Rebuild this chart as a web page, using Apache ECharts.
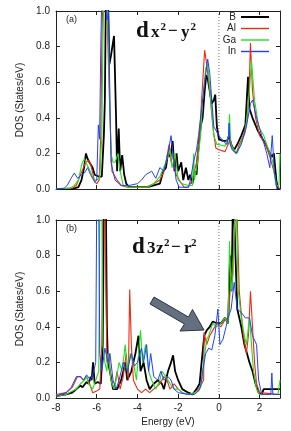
<!DOCTYPE html>
<html><head><meta charset="utf-8">
<script src="https://cdn.jsdelivr.net/npm/echarts@6/dist/echarts.min.js"></script>
<style>html,body{margin:0;padding:0;background:#fff}#c{width:291px;height:431px}</style>
</head><body><div id="c"></div>
<script>
// ---- data ----
const seriesNames = ['B', 'Al', 'Ga', 'In'];
const xTickLabels = ['-8', '-6', '-4', '-2', '0', '2'];
const yTickLabels = ['0.0', '0.2', '0.4', '0.6', '0.8', '1.0'];
const panelLabels = ['(a)', '(b)'];
const fermiLevel = [[0, 0], [0, 1]];   // dotted E = 0 reference line

// panel (a) d_{x2-y2}: [energy eV, DOS]
const aB = [[-8,0],[-7.2,0],[-6.9,0.01],[-6.75,0.05],[-6.62,0.12],[-6.53,0.2],[-6.45,0.17],[-6.36,0.15],[-6.2,0.12],[-6.1,0.08],[-6.03,0.07],[-5.9,0.07],[-5.75,0.07],[-5.65,0.3],[-5.6,0.5],[-5.55,1.1],[-5.45,1.1],[-5.38,0.7],[-5.3,0.75],[-5.15,0.86],[-5.05,0.4],[-5.0,0.1],[-4.92,0.34],[-4.85,0.1],[-4.75,0.19],[-4.65,0.08],[-4.55,0.03],[-4.4,0.01],[-3.5,0.01],[-3.2,0.02],[-2.9,0.03],[-2.73,0.1],[-2.6,0.12],[-2.5,0.2],[-2.38,0.18],[-2.27,0.27],[-2.18,0.1],[-2.08,0.2],[-2.0,0.1],[-1.85,0.15],[-1.75,0.05],[-1.62,0.12],[-1.5,0.05],[-1.42,0.08],[-1.3,0.03],[-1.2,0.1],[-1.1,0.08],[-1.04,0.18],[-0.95,0.3],[-0.88,0.36],[-0.8,0.4],[-0.7,0.55],[-0.62,0.64],[-0.55,0.62],[-0.45,0.55],[-0.35,0.48],[-0.25,0.5],[-0.18,0.53],[-0.1,0.35],[0,0.28],[0.2,0.27],[0.4,0.27],[0.5,0.3],[0.6,0.25],[0.75,0.22],[0.9,0.25],[1.1,0.3],[1.3,0.36],[1.43,0.63],[1.5,0.45],[1.65,0.4],[1.9,0.33],[2.05,0.3],[2.3,0.25],[2.5,0.2],[2.6,0.18],[2.7,0.2],[2.82,0.05],[2.9,0],[3,0]];
const aAl = [[-8,0],[-7.2,0.005],[-7.0,0.02],[-6.8,0.08],[-6.65,0.12],[-6.55,0.15],[-6.4,0.16],[-6.3,0.14],[-6.2,0.09],[-6.1,0.04],[-6.0,0.03],[-5.88,0.05],[-5.8,0.3],[-5.75,0.8],[-5.7,1.1],[-5.5,1.1],[-5.45,0.8],[-5.35,0.4],[-5.25,0.1],[-5.0,0.05],[-4.8,0.02],[-4.5,0.01],[-3.6,0.01],[-3.2,0.03],[-2.9,0.05],[-2.7,0.1],[-2.55,0.18],[-2.45,0.25],[-2.35,0.15],[-2.25,0.2],[-2.1,0.08],[-1.9,0.04],[-1.7,0.01],[-1.5,0.01],[-1.3,0.05],[-1.1,0.15],[-0.95,0.3],[-0.85,0.5],[-0.7,0.78],[-0.6,0.7],[-0.45,0.55],[-0.3,0.35],[-0.15,0.23],[0,0.22],[0.3,0.21],[0.45,0.25],[0.55,0.28],[0.7,0.22],[0.85,0.2],[1.0,0.25],[1.2,0.3],[1.4,0.4],[1.48,0.55],[1.55,0.82],[1.65,0.55],[1.8,0.4],[2.0,0.3],[2.3,0.25],[2.5,0.18],[2.7,0.1],[2.85,0.02],[3,0]];
const aGa = [[-8,0],[-7.3,0.005],[-7.1,0.02],[-6.9,0.05],[-6.75,0.13],[-6.7,0.15],[-6.6,0.17],[-6.5,0.14],[-6.4,0.12],[-6.25,0.08],[-6.15,0.05],[-6.0,0.05],[-5.85,0.06],[-5.75,0.3],[-5.7,0.8],[-5.65,1.1],[-5.5,1.1],[-5.42,0.8],[-5.3,0.2],[-5.2,0.15],[-5.1,0.15],[-4.95,0.2],[-4.85,0.1],[-4.7,0.02],[-4.4,0.01],[-3.5,0.01],[-3.2,0.03],[-2.9,0.07],[-2.6,0.15],[-2.4,0.22],[-2.3,0.12],[-2.15,0.2],[-2.0,0.05],[-1.8,0.03],[-1.5,0.02],[-1.3,0.02],[-1.24,0.2],[-1.2,0.05],[-1.05,0.15],[-0.9,0.3],[-0.8,0.5],[-0.65,0.68],[-0.55,0.7],[-0.4,0.5],[-0.25,0.3],[-0.1,0.25],[0,0.25],[0.3,0.24],[0.48,0.3],[0.52,0.42],[0.58,0.25],[0.75,0.22],[0.9,0.2],[1.05,0.25],[1.3,0.32],[1.5,0.55],[1.6,0.72],[1.75,0.5],[1.95,0.35],[2.2,0.3],[2.5,0.2],[2.65,0.15],[2.8,0.02],[2.95,0.02],[3,0.2]];
const aIn = [[-8,0],[-7.6,0.005],[-7.45,0.02],[-7.26,0.06],[-7.1,0.09],[-6.94,0.06],[-6.75,0.08],[-6.6,0.09],[-6.45,0.12],[-6.3,0.08],[-6.1,0.04],[-6.0,0.05],[-5.92,0.36],[-5.86,0.28],[-5.8,0.8],[-5.75,1.1],[-5.6,1.1],[-5.5,0.95],[-5.42,1.0],[-5.35,0.5],[-5.3,0.15],[-5.1,0.05],[-4.8,0.02],[-4.4,0.02],[-4.0,0.03],[-3.8,0.05],[-3.6,0.08],[-3.3,0.1],[-3.1,0.06],[-2.9,0.12],[-2.7,0.1],[-2.5,0.2],[-2.35,0.3],[-2.2,0.15],[-2.1,0.05],[-1.95,0.01],[-1.5,0.01],[-1.4,0.05],[-1.25,0.15],[-1.1,0.22],[-1.0,0.3],[-0.85,0.45],[-0.7,0.6],[-0.55,0.73],[-0.45,0.65],[-0.35,0.5],[-0.25,0.35],[-0.1,0.32],[0,0.3],[0.2,0.27],[0.4,0.25],[0.47,0.3],[0.5,0.37],[0.55,0.25],[0.65,0.22],[0.85,0.2],[1.1,0.25],[1.35,0.35],[1.55,0.48],[1.65,0.5],[1.85,0.4],[2.1,0.3],[2.35,0.2],[2.5,0.12],[2.62,0.3],[2.72,0.1],[2.85,0],[3,0]];

// panel (b) d_{3z2-r2}
const bB = [[-8,0.01],[-7.5,0.02],[-7.2,0.03],[-7.0,0.05],[-6.8,0.07],[-6.7,0.06],[-6.5,0.09],[-6.4,0.08],[-6.3,0.12],[-6.25,0.1],[-6.18,0.2],[-6.1,0.08],[-5.95,0.09],[-5.8,0.08],[-5.7,0.3],[-5.65,1.1],[-5.55,1.1],[-5.5,0.4],[-5.45,0.2],[-5.35,0.15],[-5.2,0.05],[-5.0,0.05],[-4.8,0.1],[-4.6,0.2],[-4.5,0.1],[-4.3,0.15],[-4.1,0.25],[-3.95,0.35],[-3.85,0.15],[-3.7,0.2],[-3.55,0.1],[-3.4,0.05],[-3.2,0.08],[-3.0,0.1],[-2.8,0.08],[-2.7,0.05],[-2.5,0.15],[-2.35,0.2],[-2.25,0.24],[-2.15,0.15],[-2.0,0.1],[-1.8,0.05],[-1.5,0.03],[-1.3,0.02],[-1.1,0.05],[-0.95,0.08],[-0.85,0.2],[-0.72,0.35],[-0.6,0.38],[-0.45,0.4],[-0.3,0.43],[-0.1,0.42],[0.1,0.42],[0.3,0.45],[0.45,0.42],[0.55,0.8],[0.62,0.6],[0.7,1.2],[0.78,1.2],[0.9,0.5],[1.1,0.4],[1.25,0.3],[1.38,0.25],[1.5,0.2],[1.65,0.15],[1.8,0.08],[1.95,0.03],[2.1,0.02],[2.2,0.05],[3,0.05]];
const bAl = [[-8,0.02],[-7.5,0.03],[-7.2,0.06],[-6.95,0.12],[-6.8,0.12],[-6.65,0.1],[-6.5,0.12],[-6.35,0.08],[-6.2,0.03],[-6.0,0.04],[-5.85,0.05],[-5.75,0.3],[-5.7,1.1],[-5.6,1.1],[-5.5,0.2],[-5.4,0.25],[-5.3,0.1],[-5.15,0.05],[-5.0,0.15],[-4.85,0.05],[-4.7,0.12],[-4.55,0.25],[-4.45,0.1],[-4.38,0.61],[-4.3,0.3],[-4.2,0.1],[-4.0,0.05],[-3.8,0.03],[-3.6,0.05],[-3.4,0.03],[-3.1,0.06],[-2.9,0.08],[-2.7,0.12],[-2.55,0.1],[-2.4,0.05],[-2.2,0.08],[-2.0,0.05],[-1.8,0.03],[-1.5,0.02],[-1.2,0.03],[-1.0,0.05],[-0.85,0.08],[-0.75,0.1],[-0.73,0.37],[-0.6,0.3],[-0.45,0.35],[-0.3,0.38],[-0.1,0.42],[0.1,0.4],[0.35,0.45],[0.45,0.42],[0.55,0.6],[0.7,0.8],[0.85,1.2],[0.92,1.2],[1.0,0.6],[1.2,0.35],[1.35,0.25],[1.45,0.35],[1.55,0.6],[1.65,0.4],[1.75,0.2],[1.85,0.08],[2.0,0.03],[3,0.02]];
const bGa = [[-8,0.01],[-7.5,0.02],[-7.2,0.04],[-7.0,0.05],[-6.8,0.08],[-6.6,0.1],[-6.5,0.12],[-6.4,0.08],[-6.2,0.05],[-6.05,0.1],[-5.9,0.15],[-5.85,1.1],[-5.75,1.1],[-5.7,0.3],[-5.6,0.2],[-5.5,0.15],[-5.45,0.25],[-5.3,0.1],[-5.15,0.05],[-5.05,0.1],[-4.9,0.2],[-4.75,0.15],[-4.6,0.3],[-4.5,0.15],[-4.35,0.25],[-4.2,0.2],[-4.05,0.1],[-3.85,0.38],[-3.75,0.2],[-3.6,0.3],[-3.45,0.15],[-3.3,0.1],[-3.1,0.05],[-2.9,0.1],[-2.8,0.15],[-2.6,0.12],[-2.4,0.08],[-2.2,0.05],[-2.0,0.05],[-1.8,0.03],[-1.5,0.02],[-1.2,0.03],[-1.0,0.04],[-0.85,0.08],[-0.75,0.2],[-0.6,0.33],[-0.5,0.35],[-0.3,0.42],[-0.1,0.4],[0.1,0.42],[0.3,0.45],[0.45,0.42],[0.52,0.88],[0.6,0.6],[0.7,0.7],[0.82,1.2],[0.95,0.6],[1.1,0.45],[1.25,0.35],[1.35,0.3],[1.5,0.45],[1.6,0.3],[1.7,0.15],[1.85,0.05],[2.0,0.02],[2.9,0.02],[3,0.1]];
const bIn = [[-8,0.01],[-7.5,0.03],[-7.25,0.06],[-7.0,0.12],[-6.8,0.12],[-6.65,0.1],[-6.5,0.13],[-6.3,0.1],[-6.15,0.15],[-6.05,0.2],[-6.0,1.1],[-5.9,1.1],[-5.85,0.25],[-5.75,0.15],[-5.6,0.28],[-5.45,0.2],[-5.35,0.25],[-5.2,0.1],[-5.05,0.05],[-4.9,0.1],[-4.7,0.2],[-4.5,0.15],[-4.3,0.25],[-4.15,0.18],[-4.0,0.2],[-3.8,0.28],[-3.7,0.2],[-3.55,0.3],[-3.45,0.15],[-3.35,0.25],[-3.2,0.12],[-3.0,0.1],[-2.85,0.15],[-2.7,0.1],[-2.5,0.12],[-2.35,0.1],[-2.2,0.05],[-2.0,0.03],[-1.5,0.02],[-1.2,0.02],[-1.0,0.04],[-0.9,0.06],[-0.8,0.15],[-0.65,0.25],[-0.5,0.28],[-0.35,0.27],[-0.2,0.35],[-0.05,0.5],[0.05,0.3],[0.2,0.33],[0.35,0.4],[0.45,0.45],[0.6,0.5],[0.75,0.65],[0.9,0.5],[1.1,0.48],[1.3,0.45],[1.5,0.45],[1.65,0.35],[1.85,0.3],[1.95,0.1],[2.1,0.02],[2.55,0.02],[2.6,0.14],[2.65,0.02],[3,0.02]];

const panelData = [[aB, aAl, aGa, aIn], [bB, bAl, bGa, bIn]];

// ---- styling ----
const colors = ['#000000', '#f02a10', '#20e020', '#2040ff'];
const widths = [1.8, 1.1, 1.1, 1.0];
const legendWidths = [2, 1.4, 1.4, 1.4];
const font = "'Liberation Sans', Arial, sans-serif";
const serif = "'Liberation Serif', 'DejaVu Serif', serif";
const frame = '#222';
const grids = [
  {left: 56, top: 11, width: 224, height: 178},
  {left: 56, top: 220, width: 224, height: 178}
];
const lineOpt = {show: true, onZero: false, lineStyle: {color: frame, width: 1}};
const tickOpt = {show: true, inside: true, length: 4, lineStyle: {color: frame}};

const xAxes = [], yAxes = [];
grids.forEach((g, gi) => {
  const bottomLabels = gi === 1;
  xAxes.push({
    type: 'value', gridIndex: gi, position: 'bottom', min: -8, max: 3, interval: 2,
    axisLine: lineOpt, axisTick: tickOpt, splitLine: {show: false},
    axisLabel: {show: bottomLabels, margin: 5, fontSize: 10, color: '#222', fontFamily: font,
      formatter: v => xTickLabels[Math.round((v + 8) / 2)] ?? ''},
    name: bottomLabels ? 'Energy (eV)' : '', nameLocation: 'middle', nameGap: 19,
    nameTextStyle: {fontSize: 10, color: '#222', fontFamily: font}
  });
  xAxes.push({
    type: 'value', gridIndex: gi, position: 'top', min: -8, max: 3, interval: 2,
    axisLine: lineOpt, axisTick: tickOpt, splitLine: {show: false}, axisLabel: {show: false}
  });
  yAxes.push({
    type: 'value', gridIndex: gi, position: 'left', min: 0, max: 1, interval: 0.2,
    axisLine: lineOpt, axisTick: tickOpt, splitLine: {show: false},
    axisLabel: {show: true, margin: 6, fontSize: 10, color: '#222', fontFamily: font,
      formatter: v => yTickLabels[Math.round(v * 5)] ?? ''},
    name: 'DOS (States/eV)', nameLocation: 'middle', nameGap: 27, nameRotate: 90,
    nameTextStyle: {fontSize: 10, color: '#222', fontFamily: font}
  });
  yAxes.push({
    type: 'value', gridIndex: gi, position: 'right', min: 0, max: 1, interval: 0.2,
    axisLine: lineOpt, axisTick: tickOpt, splitLine: {show: false}, axisLabel: {show: false}
  });
});

const series = [];
panelData.forEach((set, gi) => {
  series.push({
    name: 'EF', type: 'line', xAxisIndex: gi * 2, yAxisIndex: gi * 2, data: fermiLevel,
    showSymbol: false, symbol: 'none', silent: true, z: 1, animation: false,
    itemStyle: {color: '#888'},
    lineStyle: {type: [1, 2], color: '#666', width: 1, cap: 'butt'}
  });
  set.forEach((d, si) => {
    series.push({
      name: seriesNames[si], type: 'line', xAxisIndex: gi * 2, yAxisIndex: gi * 2,
      data: d, showSymbol: false, symbol: 'none', clip: true, z: 3 + si,
      lineStyle: {color: colors[si], width: widths[si]}, itemStyle: {color: colors[si]},
      animation: false
    });
  });
});

// legend: one component per entry, right-anchored so the line samples align
const legends = seriesNames.map((n, i) => ({
  data: [{name: n, icon: 'path://M0,0h28v' + legendWidths[i] + 'h-28z', itemStyle: {color: colors[i]}}],
  orient: 'vertical', right: 22, top: 12 + i * 11.5, align: 'right',
  itemWidth: 28, itemHeight: 8, itemGap: 0, padding: 0, selectedMode: false,
  textStyle: {fontSize: 10, color: '#222', fontFamily: font, padding: [0, 0, 0, 0]}
}));

const arrowPts = [[154,297],[188.5,317],[192.5,309.5],[204,330],[180,331],[184.5,324],[150,304]];

function txt(x, y, s, size) {
  return {type: 'text', x: x, y: y, z: 50,
    style: {text: s, font: 'bold ' + size + 'px ' + serif, fill: '#111', verticalAlign: 'top'}};
}

const option = {
  animation: false,
  backgroundColor: '#fff',
  grid: grids,
  xAxis: xAxes,
  yAxis: yAxes,
  series: series,
  legend: legends,
  graphic: [
    {type: 'text', left: 66, top: 15, style: {text: panelLabels[0], font: '9px ' + font, fill: '#222'}},
    {type: 'text', left: 66, top: 224, style: {text: panelLabels[1], font: '9px ' + font, fill: '#222'}},
    txt(136, 20, 'd', 23),
    txt(151, 24, 'x', 17), txt(160.5, 22, '2', 11), txt(168, 23, '−', 17), txt(181, 24, 'y', 17), txt(190.5, 22, '2', 11),
    txt(132, 236, 'd', 23),
    txt(147, 240, '3', 17), txt(156, 240, 'z', 17), txt(164, 238, '2', 11), txt(171, 239, '−', 17), txt(184, 240, 'r', 17), txt(191, 238, '2', 11),
    {type: 'polygon', shape: {points: arrowPts}, style: {fill: '#627080', stroke: '#2c3540', lineWidth: 1}, z: 100}
  ]
};

const chart = echarts.init(document.getElementById('c'), null, {renderer: 'canvas'});
chart.setOption(option);
</script>
</body></html>
